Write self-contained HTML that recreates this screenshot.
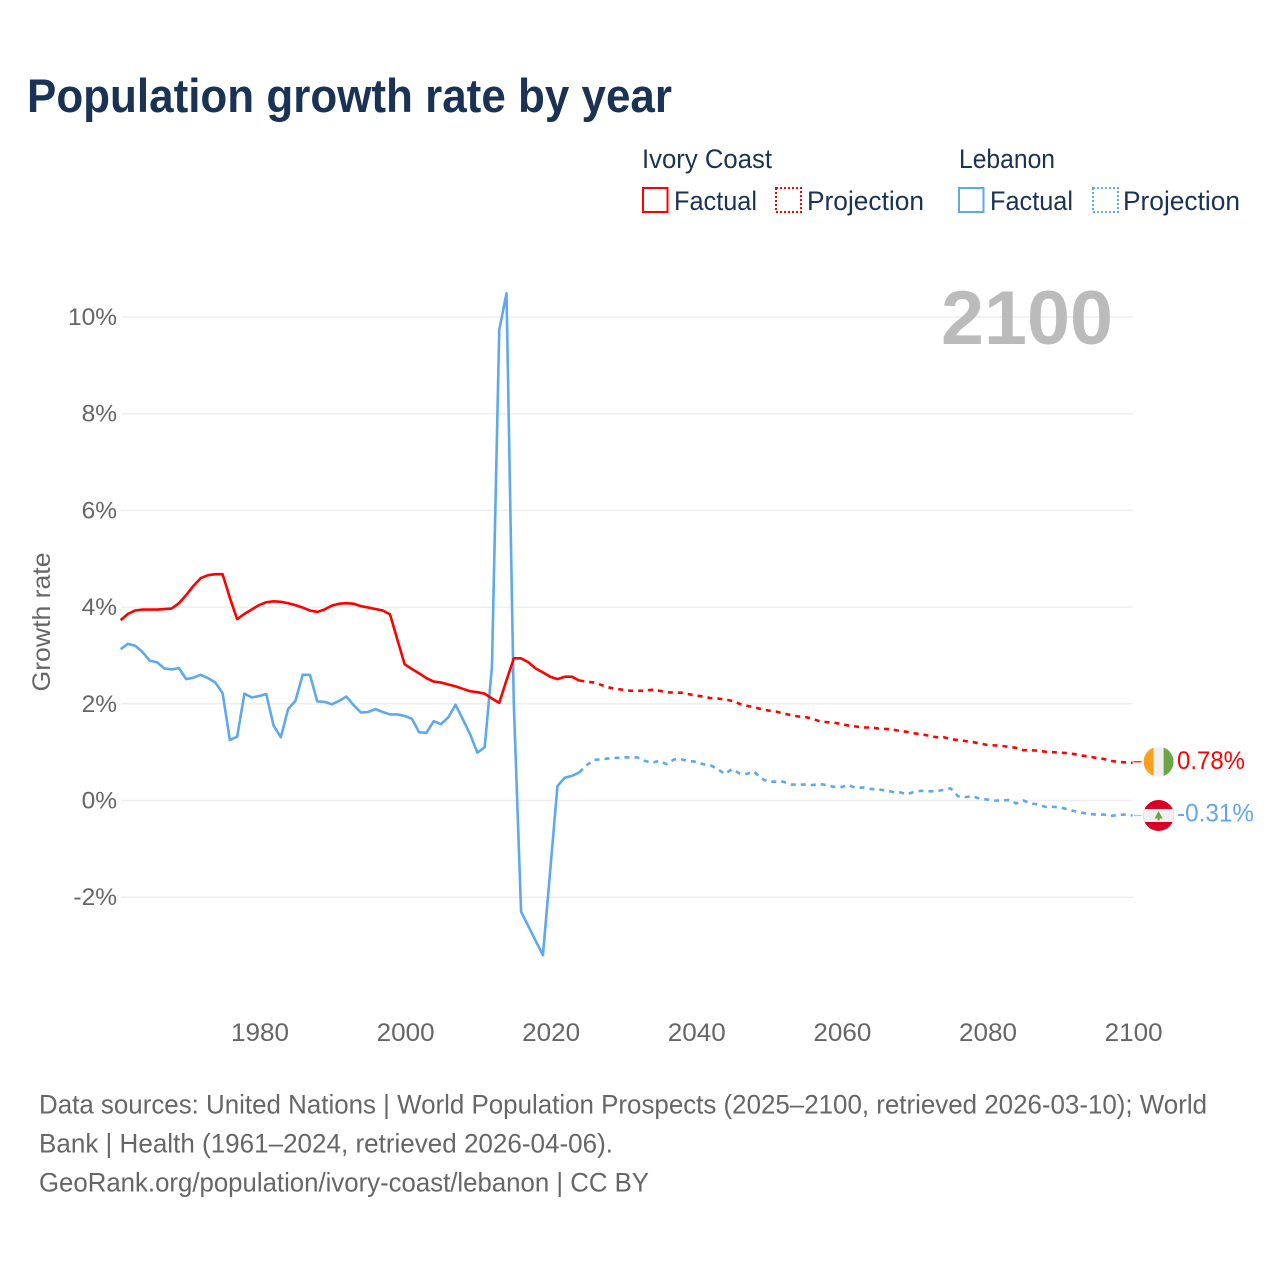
<!DOCTYPE html>
<html lang="en">
<head>
<meta charset="utf-8">
<title>Population growth rate by year</title>
<style>
html,body{margin:0;padding:0;background:#fff;}
svg{display:block;font-family:"Liberation Sans",sans-serif;}
</style>
</head>
<body>
<svg id="chart" width="1280" height="1280" viewBox="0 0 1280 1280" xmlns="http://www.w3.org/2000/svg">
  <defs>
    <clipPath id="flag-clip-ci"><circle cx="0" cy="0" r="15"/></clipPath>
    <clipPath id="flag-clip-lb"><circle cx="0" cy="0" r="15.5"/></clipPath>
  </defs>
  <text x="27" y="112" font-size="47" font-weight="700" fill="#1a3354" textLength="645" lengthAdjust="spacingAndGlyphs">Population growth rate by year</text>

  <g font-size="26.5" fill="#1a3354">
    <text x="642" y="168" textLength="130" lengthAdjust="spacingAndGlyphs">Ivory Coast</text>
    <rect x="643" y="188" width="24.5" height="24" fill="none" stroke="#ff0000" stroke-width="2"/>
    <text x="674" y="210" textLength="83" lengthAdjust="spacingAndGlyphs">Factual</text>
    <rect x="776" y="188" width="25" height="24" fill="none" stroke="#ff0000" stroke-width="2" stroke-dasharray="2 2"/>
    <text x="807" y="210" textLength="117" lengthAdjust="spacingAndGlyphs">Projection</text>
    <text x="959" y="168" textLength="96" lengthAdjust="spacingAndGlyphs">Lebanon</text>
    <rect x="959" y="188" width="24.5" height="24" fill="none" stroke="#5fa8ee" stroke-width="2"/>
    <text x="990" y="210" textLength="83" lengthAdjust="spacingAndGlyphs">Factual</text>
    <rect x="1093" y="188" width="25" height="24" fill="none" stroke="#5fa8ee" stroke-width="2" stroke-dasharray="2 2"/>
    <text x="1123" y="210" textLength="117" lengthAdjust="spacingAndGlyphs">Projection</text>
  </g>

  <g id="grid"></g>
  <g id="y-ticks"></g>
  <g id="x-ticks"></g>

  <text transform="translate(50,622) rotate(-90)" text-anchor="middle" font-size="25" fill="#666666" textLength="139" lengthAdjust="spacingAndGlyphs">Growth rate</text>
  <text x="941" y="344" font-size="76" font-weight="700" fill="#bbbbbb" textLength="172" lengthAdjust="spacingAndGlyphs">2100</text>

  <g id="series"></g>
  <g id="end-markers"></g>

  <g font-size="27" fill="#666666">
    <text x="39" y="1113.5" textLength="1168" lengthAdjust="spacingAndGlyphs">Data sources: United Nations | World Population Prospects (2025–2100, retrieved 2026-03-10); World</text>
    <text x="39" y="1152.5" textLength="574" lengthAdjust="spacingAndGlyphs">Bank | Health (1961–2024, retrieved 2026-04-06).</text>
    <text x="39" y="1191.5" textLength="610" lengthAdjust="spacingAndGlyphs">GeoRank.org/population/ivory-coast/lebanon | CC BY</text>
  </g>
</svg>
<script>
const yTickValues = [-2, 0, 2, 4, 6, 8, 10];
const yTickLabels = ["-2%", "0%", "2%", "4%", "6%", "8%", "10%"];
const xTickYears = [1980, 2000, 2020, 2040, 2060, 2080, 2100];
const firstFactualYear = 1961;
const firstProjectionYear = 2024;

const ivoryCoastFactual = [3.73,3.86,3.93,3.95,3.95,3.95,3.96,3.97,4.08,4.25,4.44,4.60,4.66,4.68,4.68,4.19,3.75,3.86,3.95,4.04,4.10,4.12,4.11,4.08,4.04,3.99,3.93,3.90,3.95,4.03,4.07,4.08,4.07,4.02,3.99,3.96,3.93,3.85,3.33,2.82,2.72,2.63,2.53,2.46,2.44,2.40,2.36,2.31,2.26,2.24,2.21,2.11,2.02,2.49,2.94,2.94,2.86,2.73,2.65,2.56,2.51,2.56,2.56,2.48];
const ivoryCoastProjection = [2.48,2.46,2.44,2.39,2.34,2.31,2.29,2.27,2.27,2.27,2.29,2.27,2.24,2.23,2.23,2.20,2.17,2.15,2.12,2.11,2.09,2.06,2.00,1.96,1.93,1.89,1.86,1.84,1.80,1.77,1.74,1.73,1.69,1.64,1.62,1.61,1.58,1.55,1.53,1.51,1.51,1.49,1.48,1.47,1.44,1.42,1.39,1.37,1.34,1.31,1.31,1.27,1.25,1.23,1.21,1.18,1.15,1.14,1.13,1.11,1.09,1.04,1.04,1.03,1.01,1.00,0.99,0.98,0.96,0.93,0.91,0.88,0.86,0.82,0.80,0.79,0.78];

const lebanonFactual = [3.13,3.24,3.20,3.07,2.89,2.86,2.73,2.71,2.74,2.51,2.54,2.60,2.53,2.44,2.22,1.25,1.32,2.21,2.13,2.16,2.20,1.55,1.31,1.89,2.06,2.60,2.60,2.05,2.04,1.99,2.06,2.15,1.97,1.82,1.83,1.89,1.83,1.78,1.78,1.75,1.69,1.41,1.40,1.64,1.58,1.72,1.98,1.68,1.37,0.99,1.10,2.77,9.73,10.49,2.00,-2.30,-2.60,-2.90,-3.20,-1.45,0.30,0.47,0.51,0.58];
const lebanonProjection = [0.58,0.73,0.84,0.85,0.87,0.88,0.89,0.89,0.89,0.82,0.78,0.82,0.75,0.85,0.85,0.82,0.80,0.75,0.73,0.65,0.55,0.65,0.56,0.55,0.60,0.45,0.39,0.39,0.39,0.33,0.33,0.33,0.32,0.34,0.32,0.28,0.28,0.32,0.26,0.27,0.24,0.23,0.21,0.18,0.17,0.13,0.18,0.20,0.19,0.19,0.22,0.25,0.09,0.07,0.09,0.04,0.02,0.00,0.00,0.01,-0.06,0.00,-0.06,-0.08,-0.13,-0.13,-0.14,-0.18,-0.22,-0.25,-0.28,-0.29,-0.29,-0.32,-0.30,-0.29,-0.31];

const ivoryCoastEndLabel = "0.78%";
const lebanonEndLabel = "-0.31%";

const NS = "http://www.w3.org/2000/svg";
const RED = "#ff0000";
const BLUE = "#5fa8ee";

function xScale(year) { return 259 + (year - 1980) * 7.28; }
function yScale(value) { return 800.5 - value * 48.35; }

function make(tag, attrs, parent) {
  const el = document.createElementNS(NS, tag);
  for (const k in attrs) el.setAttribute(k, attrs[k]);
  parent.appendChild(el);
  return el;
}

function linePath(values, startYear) {
  return values.map(function (v, i) {
    return (i ? "L" : "M") + xScale(startYear + i).toFixed(2) + " " + yScale(v).toFixed(2);
  }).join(" ");
}

const gridGroup = document.getElementById("grid");
const yTickGroup = document.getElementById("y-ticks");
const xTickGroup = document.getElementById("x-ticks");
const seriesGroup = document.getElementById("series");
const markerGroup = document.getElementById("end-markers");

yTickValues.forEach(function (v, i) {
  const line = make("line", { x1: 121, x2: 1133, y1: yScale(v), y2: yScale(v), stroke: "#eeeeee", "stroke-width": 1.5 }, gridGroup);
  
  
  const label = make("text", { x: 117, y: yScale(v) + 8, "text-anchor": "end", "font-size": 24.5, fill: "#666666" }, yTickGroup);
  label.textContent = yTickLabels[i];
  
  
});

xTickYears.forEach(function (year) {
  const label = make("text", { x: xScale(year) + 1, y: 1041, "text-anchor": "middle", "font-size": 25, fill: "#666666", textLength: 58, lengthAdjust: "spacingAndGlyphs" }, xTickGroup);
  label.textContent = String(year);
  
  
});

function lineAttrs(color, values, startYear) {
  return { d: linePath(values, startYear), fill: "none", stroke: color, "stroke-width": 2.6, "stroke-linejoin": "round" };
}

const lebFactualAttrs = lineAttrs(BLUE, lebanonFactual, firstFactualYear);
const lebFactualLine = make("path", lebFactualAttrs, seriesGroup);



const lebProjectionAttrs = lineAttrs(BLUE, lebanonProjection, firstProjectionYear);
lebProjectionAttrs["stroke-dasharray"] = "5 5";
const lebProjectionLine = make("path", lebProjectionAttrs, seriesGroup);



const ciFactualAttrs = lineAttrs(RED, ivoryCoastFactual, firstFactualYear);
const ciFactualLine = make("path", ciFactualAttrs, seriesGroup);



const ciProjectionAttrs = lineAttrs(RED, ivoryCoastProjection, firstProjectionYear);
ciProjectionAttrs["stroke-dasharray"] = "5 5";
const ciProjectionLine = make("path", ciProjectionAttrs, seriesGroup);



const lastYear = firstProjectionYear + ivoryCoastProjection.length - 1;
const markerX = xScale(lastYear) + 26;

/* Ivory Coast end marker */
const ciY = yScale(ivoryCoastProjection[ivoryCoastProjection.length - 1]) - 1;
const ciLead = make("line", { x1: xScale(lastYear) + 1, x2: markerX - 17, y1: ciY, y2: ciY, stroke: RED, "stroke-width": 1.2 }, markerGroup);


const ciFlag = make("g", { transform: "translate(" + markerX + "," + ciY + ")", "clip-path": "url(#flag-clip-ci)" }, markerGroup);


make("rect", { x: -15, y: -15, width: 10, height: 30, fill: "#ff9f1e" }, ciFlag);
make("rect", { x: -5, y: -15, width: 10, height: 30, fill: "#f0f0f0" }, ciFlag);
make("rect", { x: 5, y: -15, width: 10, height: 30, fill: "#6da544" }, ciFlag);
const ciLabel = make("text", { x: 1177, y: ciY + 7, "font-size": 25, fill: RED, textLength: 68, lengthAdjust: "spacingAndGlyphs" }, markerGroup);
ciLabel.textContent = ivoryCoastEndLabel;



/* Lebanon end marker */
const lbY = yScale(lebanonProjection[lebanonProjection.length - 1]);
const lbLead = make("line", { x1: xScale(lastYear) + 1, x2: markerX - 17, y1: lbY, y2: lbY, stroke: "#9cc9f3", "stroke-width": 1.2 }, markerGroup);


const lbFlag = make("g", { transform: "translate(" + markerX + "," + lbY + ")", "clip-path": "url(#flag-clip-lb)" }, markerGroup);


make("rect", { x: -16, y: -16, width: 32, height: 32, fill: "#d80027" }, lbFlag);
make("rect", { x: -16, y: -6.5, width: 32, height: 13, fill: "#f0f0f0" }, lbFlag);
make("polygon", { points: "0,-4.5 4,3 1,3 1,5 -1,5 -1,3 -4,3", fill: "#6da544" }, lbFlag);
const lbLabel = make("text", { x: 1177, y: lbY + 6, "font-size": 25, fill: BLUE, textLength: 77, lengthAdjust: "spacingAndGlyphs" }, markerGroup);
lbLabel.textContent = lebanonEndLabel;


</script>
</body>
</html>
